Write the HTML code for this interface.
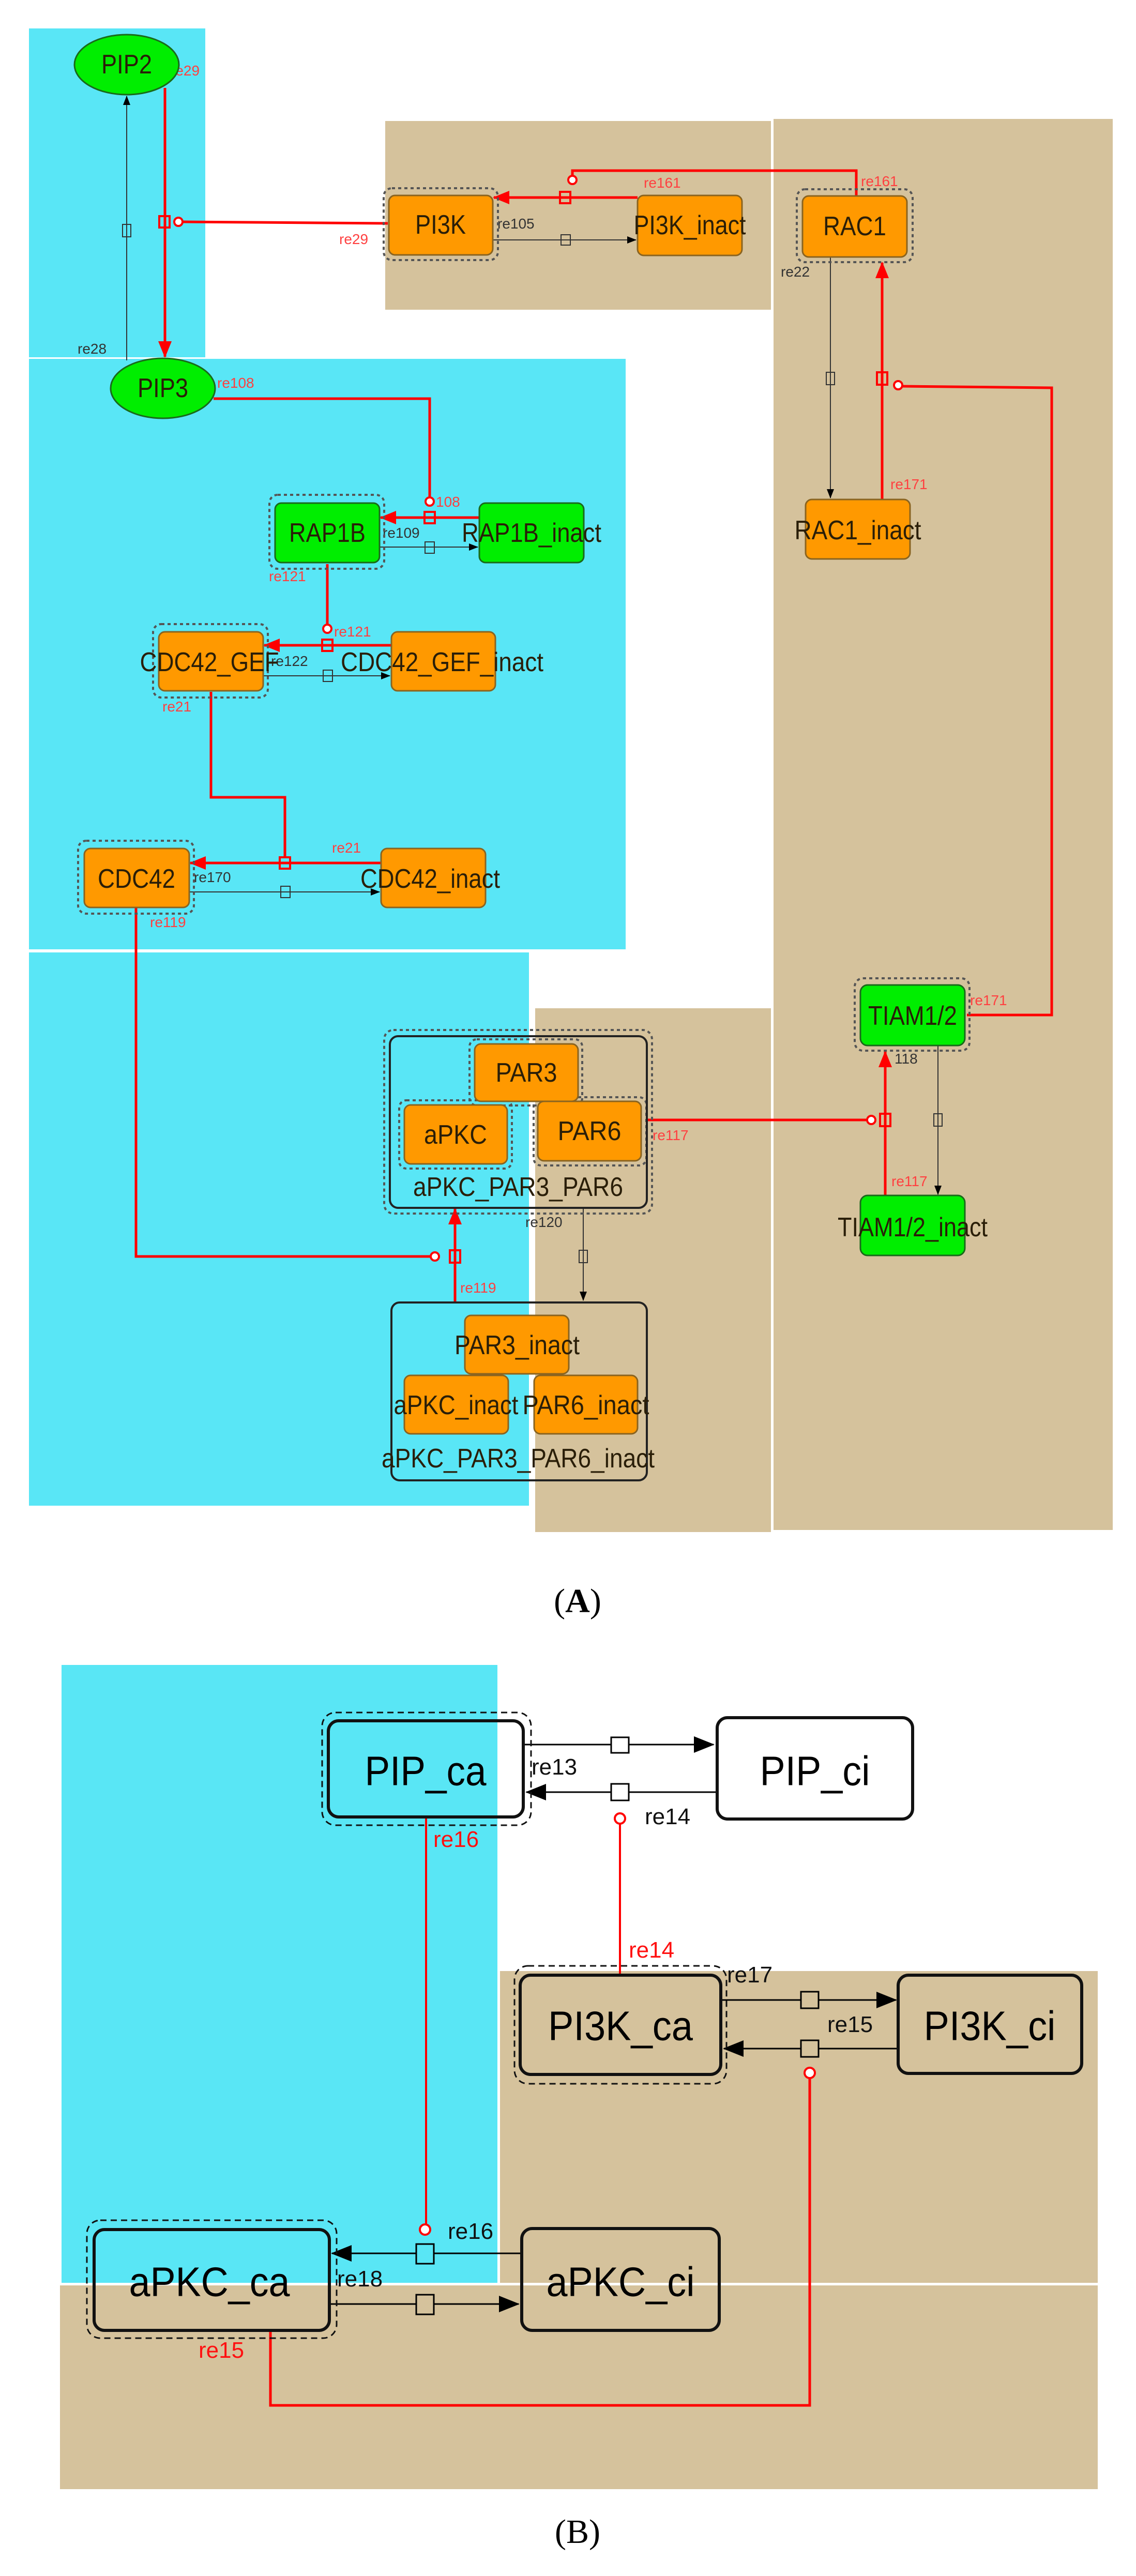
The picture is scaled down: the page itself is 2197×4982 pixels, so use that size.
<!DOCTYPE html>
<html><head><meta charset="utf-8"><style>
html,body{margin:0;padding:0;background:#fff;}
svg{display:block;}
text{font-family:"Liberation Sans",sans-serif;}
.n{font-size:52px;fill:#2a1e08;text-anchor:middle;dominant-baseline:central;}
.r{font-size:28px;fill:#ff4040;}
.k{font-size:28px;fill:#333;}
.bn{font-size:80px;fill:#000;text-anchor:middle;dominant-baseline:central;}
.br{font-size:44px;fill:#ff1010;}
.bk{font-size:44px;fill:#111;}
.cap{font-family:"Liberation Serif",serif;font-size:66px;text-anchor:middle;fill:#000;}
</style></head><body>
<svg width="2197" height="4982" viewBox="0 0 2197 4982" xmlns="http://www.w3.org/2000/svg">
<defs>
<marker id="ab" markerWidth="18" markerHeight="14" refX="17" refY="7" orient="auto" markerUnits="userSpaceOnUse" viewBox="0 0 18 14"><path d="M0,0 L18,7 L0,14 z" fill="#000"/></marker>
<marker id="ar" markerWidth="32" markerHeight="26" refX="30" refY="13" orient="auto" markerUnits="userSpaceOnUse" viewBox="0 0 32 26"><path d="M0,0 L32,13 L0,26 z" fill="#ff0000"/></marker>
<marker id="abB" markerWidth="40" markerHeight="40" refX="38" refY="20" orient="auto" markerUnits="userSpaceOnUse" viewBox="0 0 40 40"><path d="M0,4 L40,20 L0,36 z" fill="#000"/></marker>
</defs>

<!-- ===== PART A backgrounds ===== -->
<rect x="56" y="55" width="341" height="636" fill="#59e6f6"/>
<rect x="56" y="694" width="1154" height="1142" fill="#59e6f6"/>
<rect x="56" y="1842" width="967" height="1070" fill="#59e6f6"/>
<rect x="745" y="234" width="746" height="365" fill="#d5c29c"/>
<rect x="1496" y="230" width="656" height="2729" fill="#d5c29c"/>
<rect x="1035" y="1950" width="456" height="1013" fill="#d5c29c"/>

<!-- ===== PART A connectors ===== -->
<line x1="245" y1="697" x2="245" y2="186" stroke="#333" stroke-width="2" marker-end="url(#ab)"/>
<rect x="237" y="434" width="16" height="24" fill="none" stroke="#333" stroke-width="2"/>
<text class="k" x="150" y="684">re28</text>
<line x1="319" y1="170" x2="319" y2="690" stroke="#ff0000" stroke-width="5" marker-end="url(#ar)"/>
<line x1="353" y1="429" x2="750" y2="432" stroke="#ff0000" stroke-width="5"/>
<rect x="308" y="418" width="20" height="22" fill="none" stroke="#ff0000" stroke-width="4"/>
<circle cx="345" cy="429" r="8" fill="#fff" stroke="#ff0000" stroke-width="4"/>
<text class="r" x="330" y="146">re29</text>
<text class="r" x="656" y="472">re29</text>
<line x1="953" y1="464" x2="1230" y2="464" stroke="#333" stroke-width="2" marker-end="url(#ab)"/>
<rect x="1085" y="454" width="18" height="20" fill="none" stroke="#333" stroke-width="2"/>
<text class="k" x="962" y="442">re105</text>
<polyline points="1656,378 1656,330 1107,330 1107,342" fill="none" stroke="#ff0000" stroke-width="5"/>
<circle cx="1107" cy="348" r="8" fill="#fff" stroke="#ff0000" stroke-width="4"/>
<line x1="1233" y1="382" x2="955" y2="382" stroke="#ff0000" stroke-width="5" marker-end="url(#ar)"/>
<rect x="1083" y="371" width="20" height="22" fill="none" stroke="#ff0000" stroke-width="4"/>
<text class="r" x="1245" y="363">re161</text>
<text class="r" x="1665" y="360">re161</text>
<line x1="1606" y1="497" x2="1606" y2="963" stroke="#333" stroke-width="2" marker-end="url(#ab)"/>
<rect x="1598" y="720" width="16" height="24" fill="none" stroke="#333" stroke-width="2"/>
<text class="k" x="1510" y="535">re22</text>
<line x1="1706" y1="966" x2="1706" y2="508" stroke="#ff0000" stroke-width="5" marker-end="url(#ar)"/>
<rect x="1696" y="720" width="20" height="24" fill="none" stroke="#ff0000" stroke-width="4"/>
<circle cx="1737" cy="745" r="8" fill="#fff" stroke="#ff0000" stroke-width="4"/>
<polyline points="1745,747 2034,750 2034,1963 1870,1963" fill="none" stroke="#ff0000" stroke-width="5"/>
<text class="r" x="1722" y="946">re171</text>
<text class="r" x="1876" y="1944">re171</text>
<polyline points="413,771 831,771 831,962" fill="none" stroke="#ff0000" stroke-width="5"/>
<circle cx="831" cy="970" r="8" fill="#fff" stroke="#ff0000" stroke-width="4"/>
<rect x="821" y="990" width="20" height="22" fill="none" stroke="#ff0000" stroke-width="4"/>
<line x1="927" y1="1001" x2="736" y2="1001" stroke="#ff0000" stroke-width="5" marker-end="url(#ar)"/>
<text class="r" x="420" y="750">re108</text>
<text class="r" x="843" y="980">108</text>
<line x1="734" y1="1058" x2="924" y2="1058" stroke="#333" stroke-width="2" marker-end="url(#ab)"/>
<rect x="822" y="1048" width="18" height="22" fill="none" stroke="#333" stroke-width="2"/>
<text class="k" x="740" y="1040">re109</text>
<line x1="633" y1="1091" x2="633" y2="1208" stroke="#ff0000" stroke-width="5"/>
<circle cx="633" cy="1216" r="8" fill="#fff" stroke="#ff0000" stroke-width="4"/>
<rect x="623" y="1237" width="20" height="22" fill="none" stroke="#ff0000" stroke-width="4"/>
<line x1="757" y1="1248" x2="511" y2="1248" stroke="#ff0000" stroke-width="5" marker-end="url(#ar)"/>
<text class="r" x="520" y="1124">re121</text>
<text class="r" x="646" y="1231">re121</text>
<line x1="509" y1="1307" x2="754" y2="1307" stroke="#333" stroke-width="2" marker-end="url(#ab)"/>
<rect x="625" y="1296" width="18" height="22" fill="none" stroke="#333" stroke-width="2"/>
<text class="k" x="524" y="1288">re122</text>
<polyline points="408,1338 408,1542 551,1542 551,1660" fill="none" stroke="#ff0000" stroke-width="5"/>
<rect x="541" y="1658" width="20" height="22" fill="none" stroke="#ff0000" stroke-width="4"/>
<line x1="736" y1="1669" x2="368" y2="1669" stroke="#ff0000" stroke-width="5" marker-end="url(#ar)"/>
<text class="r" x="314" y="1376">re21</text>
<text class="r" x="642" y="1649">re21</text>
<line x1="366" y1="1725" x2="734" y2="1725" stroke="#333" stroke-width="2" marker-end="url(#ab)"/>
<rect x="543" y="1714" width="18" height="22" fill="none" stroke="#333" stroke-width="2"/>
<text class="k" x="375" y="1706">re170</text>
<polyline points="263,1755 263,2430 832,2430" fill="none" stroke="#ff0000" stroke-width="5"/>
<circle cx="841" cy="2430" r="8" fill="#fff" stroke="#ff0000" stroke-width="4"/>
<rect x="870" y="2418" width="20" height="24" fill="none" stroke="#ff0000" stroke-width="4"/>
<line x1="880" y1="2517" x2="880" y2="2338" stroke="#ff0000" stroke-width="5" marker-end="url(#ar)"/>
<text class="r" x="290" y="1793">re119</text>
<text class="r" x="890" y="2500">re119</text>
<line x1="1128" y1="2336" x2="1128" y2="2515" stroke="#333" stroke-width="2" marker-end="url(#ab)"/>
<rect x="1120" y="2418" width="16" height="24" fill="none" stroke="#333" stroke-width="2"/>
<text class="k" x="1016" y="2373">re120</text>
<line x1="1251" y1="2166" x2="1677" y2="2166" stroke="#ff0000" stroke-width="5"/>
<circle cx="1685" cy="2166" r="8" fill="#fff" stroke="#ff0000" stroke-width="4"/>
<rect x="1702" y="2154" width="20" height="24" fill="none" stroke="#ff0000" stroke-width="4"/>
<line x1="1712" y1="2312" x2="1712" y2="2034" stroke="#ff0000" stroke-width="5" marker-end="url(#ar)"/>
<text class="r" x="1262" y="2205">re117</text>
<text class="r" x="1724" y="2294">re117</text>
<line x1="1814" y1="2021" x2="1814" y2="2310" stroke="#333" stroke-width="2" marker-end="url(#ab)"/>
<rect x="1806" y="2154" width="16" height="24" fill="none" stroke="#333" stroke-width="2"/>
<text class="k" x="1730" y="2057">118</text>

<!-- ===== PART A nodes ===== -->
<ellipse cx="245" cy="125" rx="101" ry="58" fill="#00ee00" stroke="#1a6a1a" stroke-width="3"/>
<text class="n" x="245" y="125" textLength="98" lengthAdjust="spacingAndGlyphs">PIP2</text>
<ellipse cx="315" cy="751" rx="101" ry="58" fill="#00ee00" stroke="#1a6a1a" stroke-width="3"/>
<text class="n" x="315" y="751" textLength="98" lengthAdjust="spacingAndGlyphs">PIP3</text>

<g fill="none" stroke="#555" stroke-width="4" stroke-dasharray="6,6">
<rect x="742" y="364" width="221" height="139" rx="16"/>
<rect x="1541" y="366" width="224" height="141" rx="16"/>
<rect x="521" y="957" width="222" height="143" rx="16"/>
<rect x="296" y="1207" width="222" height="142" rx="16"/>
<rect x="151" y="1626" width="224" height="141" rx="16"/>
<rect x="1653" y="1892" width="222" height="140" rx="16"/>
<rect x="743" y="1992" width="518" height="355" rx="18"/>
<rect x="908" y="2010" width="218" height="128" rx="14"/>
<rect x="772" y="2128" width="218" height="132" rx="14"/>
<rect x="1032" y="2122" width="218" height="132" rx="14"/>
</g>

<g stroke="#8a6420" stroke-width="3">
<rect x="752" y="378" width="201" height="115" rx="12" fill="#ff9900"/>
<rect x="1233" y="378" width="202" height="116" rx="12" fill="#ff9900"/>
<rect x="1552" y="379" width="202" height="118" rx="12" fill="#ff9900"/>
<rect x="1558" y="966" width="202" height="115" rx="12" fill="#ff9900"/>
<rect x="307" y="1222" width="202" height="114" rx="12" fill="#ff9900"/>
<rect x="757" y="1222" width="201" height="114" rx="12" fill="#ff9900"/>
<rect x="163" y="1641" width="203" height="114" rx="12" fill="#ff9900"/>
<rect x="737" y="1641" width="202" height="114" rx="12" fill="#ff9900"/>
</g>
<g stroke="#1a6a1a" stroke-width="3" fill="#00ee00">
<rect x="532" y="973" width="202" height="115" rx="12"/>
<rect x="927" y="973" width="202" height="115" rx="12"/>
<rect x="1664" y="1905" width="202" height="117" rx="14"/>
<rect x="1664" y="2312" width="202" height="116" rx="14"/>
</g>

<rect x="754" y="2004" width="497" height="332" rx="16" fill="none" stroke="#222" stroke-width="4"/>
<rect x="757" y="2519" width="494" height="344" rx="16" fill="none" stroke="#222" stroke-width="4"/>
<g stroke="#8a6420" stroke-width="3" fill="#ff9900">
<rect x="918" y="2019" width="200" height="111" rx="12"/>
<rect x="782" y="2137" width="199" height="114" rx="12"/>
<rect x="1040" y="2130" width="200" height="115" rx="12"/>
<rect x="899" y="2544" width="201" height="113" rx="12"/>
<rect x="782" y="2660" width="201" height="113" rx="12"/>
<rect x="1033" y="2660" width="200" height="113" rx="12"/>
</g>

<text class="n" x="852" y="435" textLength="98" lengthAdjust="spacingAndGlyphs">PI3K</text>
<text class="n" x="1334" y="436" textLength="217" lengthAdjust="spacingAndGlyphs">PI3K_inact</text>
<text class="n" x="1653" y="438" textLength="122" lengthAdjust="spacingAndGlyphs">RAC1</text>
<text class="n" x="1659" y="1026" textLength="245" lengthAdjust="spacingAndGlyphs">RAC1_inact</text>
<text class="n" x="633" y="1031" textLength="148" lengthAdjust="spacingAndGlyphs">RAP1B</text>
<text class="n" x="1028" y="1031" textLength="270" lengthAdjust="spacingAndGlyphs">RAP1B_inact</text>
<text class="n" x="405" y="1281" textLength="269" lengthAdjust="spacingAndGlyphs">CDC42_GEF</text>
<text class="n" x="855" y="1281" textLength="392" lengthAdjust="spacingAndGlyphs">CDC42_GEF_inact</text>
<text class="n" x="264" y="1700" textLength="150" lengthAdjust="spacingAndGlyphs">CDC42</text>
<text class="n" x="832" y="1700" textLength="270" lengthAdjust="spacingAndGlyphs">CDC42_inact</text>
<text class="n" x="1765" y="1965" textLength="172" lengthAdjust="spacingAndGlyphs">TIAM1/2</text>
<text class="n" x="1765" y="2374" textLength="290" lengthAdjust="spacingAndGlyphs">TIAM1/2_inact</text>
<text class="n" x="1018" y="2075" textLength="119" lengthAdjust="spacingAndGlyphs">PAR3</text>
<text class="n" x="881" y="2195" textLength="122" lengthAdjust="spacingAndGlyphs">aPKC</text>
<text class="n" x="1140" y="2188" textLength="123" lengthAdjust="spacingAndGlyphs">PAR6</text>
<text class="n" x="1002" y="2296" textLength="406" lengthAdjust="spacingAndGlyphs">aPKC_PAR3_PAR6</text>
<text class="n" x="1000" y="2602" textLength="242" lengthAdjust="spacingAndGlyphs">PAR3_inact</text>
<text class="n" x="882" y="2718" textLength="241" lengthAdjust="spacingAndGlyphs">aPKC_inact</text>
<text class="n" x="1133" y="2718" textLength="245" lengthAdjust="spacingAndGlyphs">PAR6_inact</text>
<text class="n" x="1002" y="2821" textLength="528" lengthAdjust="spacingAndGlyphs">aPKC_PAR3_PAR6_inact</text>

<text class="cap" x="1117" y="3118">(<tspan font-weight="bold">A</tspan>)</text>

<!-- ===== PART B ===== -->
<rect x="119" y="3220" width="843" height="1195" fill="#59e6f5"/>
<rect x="967" y="3812" width="1156" height="603" fill="#d5c29c"/>
<rect x="116" y="4420" width="2007" height="394" fill="#d5c29c"/>

<line x1="1012" y1="3374" x2="1380" y2="3374" stroke="#000" stroke-width="3" marker-end="url(#abB)"/>
<rect x="1182" y="3360" width="34" height="30" fill="#fff" stroke="#000" stroke-width="3"/>
<line x1="1387" y1="3466" x2="1018" y2="3466" stroke="#000" stroke-width="3" marker-end="url(#abB)"/>
<rect x="1182" y="3450" width="34" height="32" fill="#fff" stroke="#000" stroke-width="3"/>
<line x1="1199" y1="3527" x2="1199" y2="3820" stroke="#ff0000" stroke-width="4"/>
<circle cx="1199" cy="3517" r="10" fill="#fff" stroke="#ff0000" stroke-width="4"/>
<text class="bk" x="1028" y="3432">re13</text>
<text class="bk" x="1247" y="3528">re14</text>
<text class="br" x="1216" y="3786">re14</text>

<line x1="1394" y1="3868" x2="1733" y2="3868" stroke="#000" stroke-width="3" marker-end="url(#abB)"/>
<rect x="1549" y="3852" width="34" height="32" fill="#d5c29c" stroke="#000" stroke-width="3"/>
<line x1="1737" y1="3962" x2="1400" y2="3962" stroke="#000" stroke-width="3" marker-end="url(#abB)"/>
<rect x="1549" y="3946" width="34" height="32" fill="#d5c29c" stroke="#000" stroke-width="3"/>
<circle cx="1566" cy="4009" r="10" fill="#fff" stroke="#ff0000" stroke-width="4"/>
<polyline points="1566,4019 1566,4652 523,4652 523,4507" fill="none" stroke="#ff0000" stroke-width="5"/>
<text class="bk" x="1406" y="3834">re17</text>
<text class="bk" x="1600" y="3930">re15</text>
<text class="br" x="384" y="4560">re15</text>

<line x1="824" y1="3514" x2="824" y2="4302" stroke="#ff0000" stroke-width="4"/>
<circle cx="822" cy="4312" r="10" fill="#fff" stroke="#ff0000" stroke-width="4"/>
<line x1="1009" y1="4358" x2="642" y2="4358" stroke="#000" stroke-width="3" marker-end="url(#abB)"/>
<rect x="805" y="4340" width="34" height="38" fill="#59e6f5" stroke="#000" stroke-width="3"/>
<line x1="637" y1="4456" x2="1003" y2="4456" stroke="#000" stroke-width="3" marker-end="url(#abB)"/>
<rect x="805" y="4438" width="34" height="38" fill="#d5c29c" stroke="#000" stroke-width="3"/>
<text class="br" x="838" y="3572">re16</text>
<text class="bk" x="866" y="4330">re16</text>
<text class="bk" x="652" y="4422">re18</text>

<g fill="none" stroke="#111" stroke-width="3" stroke-dasharray="12,8">
<rect x="623" y="3312" width="404" height="218" rx="26"/>
<rect x="995" y="3802" width="410" height="228" rx="26"/>
<rect x="168" y="4294" width="483" height="228" rx="26"/>
</g>
<g stroke="#111" stroke-width="6">
<rect x="635" y="3328" width="377" height="186" rx="20" fill="none"/>
<rect x="1387" y="3322" width="378" height="196" rx="20" fill="#fff"/>
<rect x="1006" y="3820" width="388" height="192" rx="20" fill="#d5c29c"/>
<rect x="1737" y="3820" width="355" height="190" rx="20" fill="#d5c29c"/>
<rect x="182" y="4312" width="455" height="195" rx="20" fill="none"/>
<rect x="1009" y="4310" width="382" height="197" rx="20" fill="none"/>
</g>
<text class="bn" x="823" y="3425" textLength="235" lengthAdjust="spacingAndGlyphs">PIP_ca</text>
<text class="bn" x="1576" y="3425" textLength="213" lengthAdjust="spacingAndGlyphs">PIP_ci</text>
<text class="bn" x="1200" y="3918" textLength="280" lengthAdjust="spacingAndGlyphs">PI3K_ca</text>
<text class="bn" x="1914" y="3918" textLength="255" lengthAdjust="spacingAndGlyphs">PI3K_ci</text>
<text class="bn" x="405" y="4413" textLength="311" lengthAdjust="spacingAndGlyphs">aPKC_ca</text>
<text class="bn" x="1200" y="4413" textLength="287" lengthAdjust="spacingAndGlyphs">aPKC_ci</text>

<text class="cap" x="1117" y="4918">(B)</text>
</svg>
</body></html>
